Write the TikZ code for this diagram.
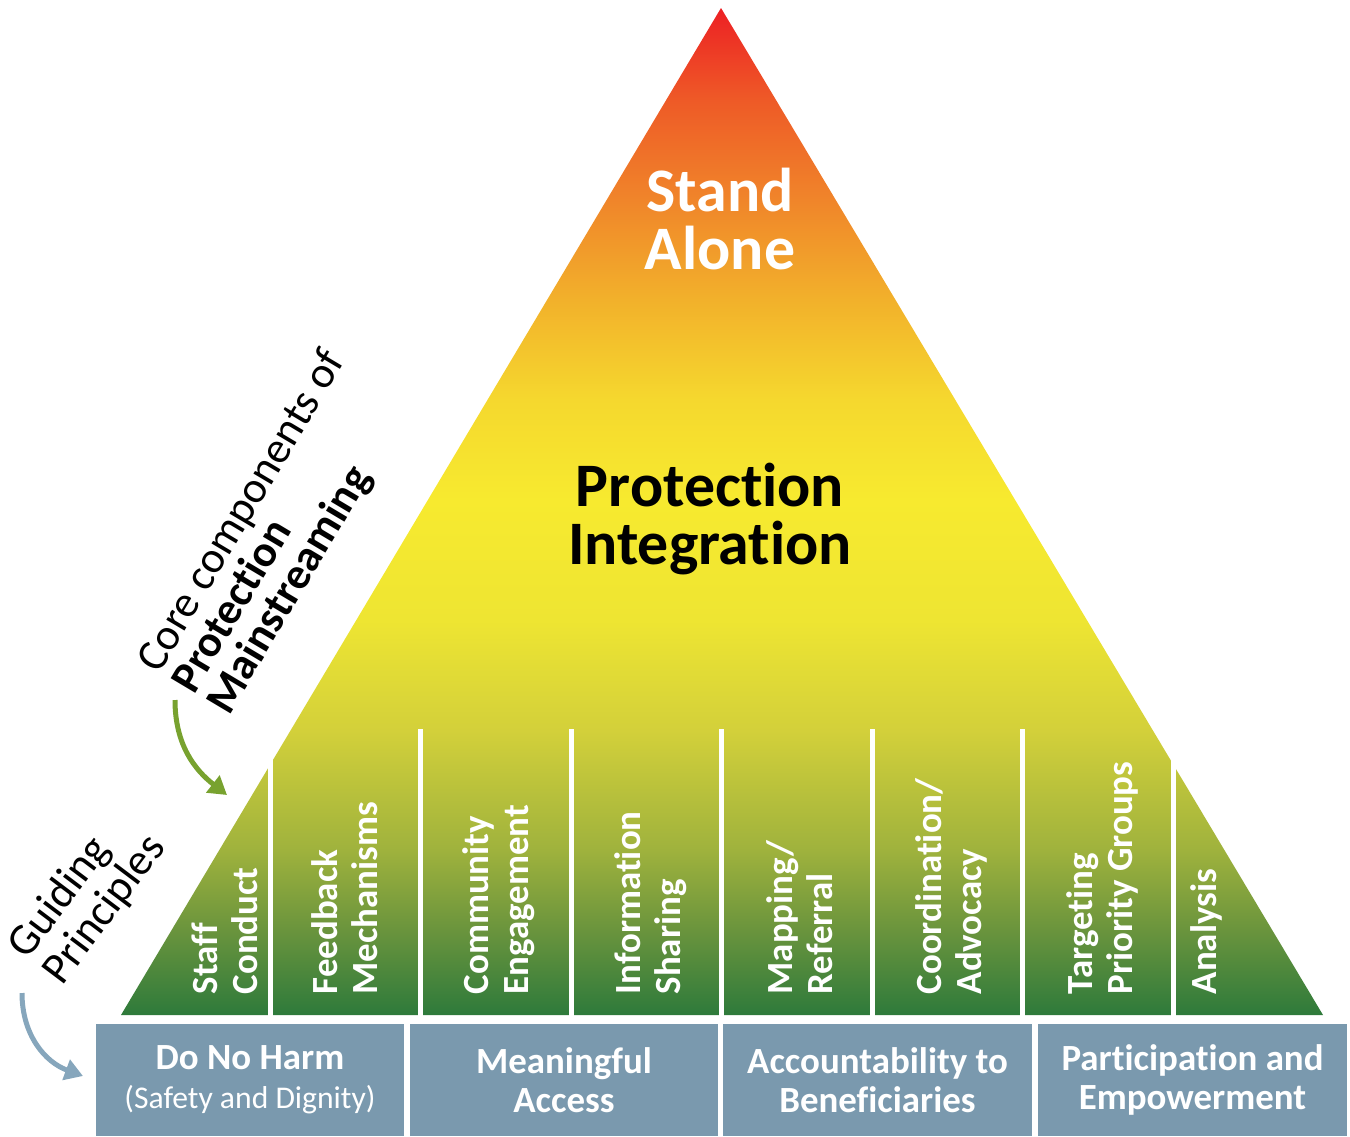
\documentclass[tikz,border=0pt]{standalone}
\usepackage{fontspec}
\setmainfont{Carlito}[Ligatures=NoCommon]
\usetikzlibrary{arrows.meta}

\definecolor{pg0}{HTML}{2E7A3B}
\definecolor{pg1}{HTML}{6A943D}
\definecolor{pg2}{HTML}{9FB23D}
\definecolor{pg3}{HTML}{D3D03A}
\definecolor{pg4}{HTML}{EEE532}
\definecolor{pg5}{HTML}{F7EA2F}
\definecolor{pg6}{HTML}{F5D82E}
\definecolor{pg7}{HTML}{F2B12B}
\definecolor{pg8}{HTML}{F0852A}
\definecolor{pg9}{HTML}{EE5A27}
\definecolor{pg10}{HTML}{ED2024}
\definecolor{baseblue}{HTML}{7A99AE}
\definecolor{arrowblue}{HTML}{86A6BC}
\definecolor{arrowgreen}{HTML}{78A22F}

\pgfdeclareverticalshading{pyramid}{100bp}{color(0bp)=(pg0); color(25bp)=(pg0);
  color(29.22bp)=(pg1); color(33.19bp)=(pg2); color(39.15bp)=(pg3);
  color(44.61bp)=(pg4); color(50.57bp)=(pg5); color(55.54bp)=(pg6);
  color(60.5bp)=(pg7); color(65.47bp)=(pg8); color(70.43bp)=(pg9);
  color(75bp)=(pg10); color(100bp)=(pg10)}

\begin{document}
\begin{tikzpicture}[x=0.1mm, y=-0.1mm,
    colnode/.style={rotate=90, anchor=west, inner sep=0pt, align=left, text=white, font=\fontsize{10.5}{11.4}\selectfont\bfseries},
    basenode/.style={fill=baseblue, minimum width=30.8mm, minimum height=11.2mm, inner sep=0pt, align=center, text=white, font=\fontsize{10.5}{11.2}\selectfont\bfseries},
    tiltnode/.style={inner sep=0pt, align=left, anchor=north west, font=\fontsize{12.6}{11.6}\selectfont},
    bignode/.style={inner sep=0pt, align=center, font=\fontsize{17.6}{16.4}\selectfont\bfseries},
    ]
    \useasboundingbox (0,0) rectangle (1350,1136);

    % the pyramid
    \shade[shading=pyramid] (721,8) -- (121,1015) -- (1323,1015) -- cycle;
    \foreach \x in {270,420.5,571,721,872,1022.5,1173}
      \fill[white] (\x-2.5,729) rectangle (\x+2.5,1016);

    \node [bignode, text=white] (alone) at (720,219) {Stand\\Alone};
    \node [bignode] (integ) at (710,519) {Protection\\Integration};

    % core components
    \node [colnode] (staff) at (225,995) {Staff\\Conduct};
    \node [colnode] (feed) at (345,995) {Feedback\\Mechanisms};
    \node [colnode] (comm) at (499,995) {Community\\Engagement};
    \node [colnode] (info) at (651,995) {Information\\Sharing};
    \node [colnode] (map) at (800,995) {Mapping/\\Referral};
    \node [colnode] (coord) at (951,995) {Coordination/\\Advocacy};
    \node [colnode] (target) at (1102,995) {Targeting\\Priority Groups};
    \node [colnode] (anal) at (1206,995) {Analysis};

    % guiding principles
    \node [basenode, minimum width=30.8mm] (harm) at (250,1080) {Do No Harm\\{\mdseries\fontsize{9}{11.2}\selectfont(Safety and Dignity)}};
    \node [basenode] (access) at (564,1080) {Meaningful\\Access};
    \node [basenode, minimum width=30.9mm] (account) at (877.5,1080) {Accountability to\\Beneficiaries};
    \node [basenode, minimum width=30.9mm] (partic) at (1192.5,1080) {Participation and\\Empowerment};

    % side captions
    \node [tiltnode, rotate=59.2] (core) at (132,659) {Core components of\\\textbf{Protection}\\\textbf{Mainstreaming}};
    \node [tiltnode, rotate=53, font=\fontsize{12.6}{12.4}\selectfont] (guide) at (2,942) {Guiding\\Principles};

    \coordinate (cstart) at (175,700);
    \coordinate (cend) at (227,795);
    \coordinate (gstart) at (22,993);
    \coordinate (gend) at (83,1076);
    \draw [arrowgreen, line width=0.5mm, -{Triangle[length=1.8mm,width=2.1mm]}] (cstart) .. controls (175,745) and (195,770) .. (cend);
    \draw [arrowblue, line width=0.5mm, -{Triangle[length=1.8mm,width=2.1mm]}] (gstart) .. controls (22,1035) and (45,1062) .. (gend);
\end{tikzpicture}
\end{document}
